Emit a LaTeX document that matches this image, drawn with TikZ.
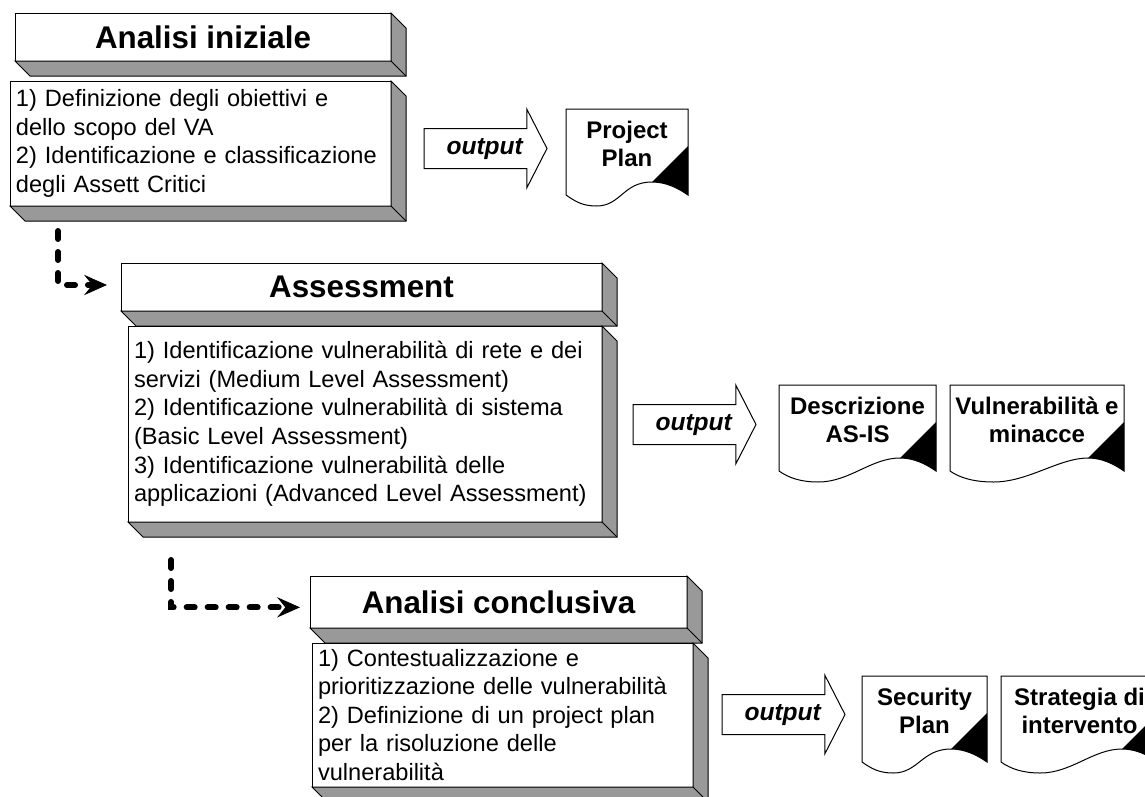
\documentclass[tikz,border=0pt]{standalone}
\usepackage{fontspec}
\setmainfont{Liberation Sans}
\usetikzlibrary{arrows.meta,calc,positioning,shapes.arrows}

\tikzset{
    slabline/.style={draw=black, line width=0.75pt},
    titlebox/.style={slabline, fill=white, inner sep=0pt, outer sep=0pt, font=\fontsize{23.5}{28}\selectfont\bfseries},
    stepsbox/.style={slabline, fill=white, inner sep=0pt, inner xsep=4.5pt, outer sep=0pt, align=left, font=\fontsize{17.7}{21.4}\selectfont},
    outputarrow/.style={single arrow, draw=black, line width=0.75pt, fill=white, inner sep=0pt, outer sep=0pt,
        text height=18.75pt, text depth=10.5pt,
        minimum width=58.5pt, minimum height=92.25pt, single arrow head extend=14.6pt, single arrow tip angle=125.7,
        font=\fontsize{18.4}{22}\selectfont\bfseries\itshape},
    doclabel/.style={inner sep=0pt, align=center, font=\fontsize{18}{21}\selectfont\bfseries},
    flowline/.style={line width=4.5pt, line cap=round, dash pattern=on 6pt off 9.75pt, -{Stealth[length=17pt,width=15pt,inset=6pt]}},
}

% name, left, top, width, height, style, text
\newcommand{\slabbox}[7]{
    \node[#6, anchor=north west, minimum width=#4*0.75pt, minimum height=#5*0.75pt] (#1) at (#2,#3) {#7};
    \filldraw[slabline, fill=black!40] (#1.south west) -- ++(15,15) -- ++(#4,0) -- ++(0,-#5) -- (#1.north east) -- (#1.south east) -- cycle;
    \draw[slabline] (#1.south east) -- ++(15,15);
}

% name, left, top, width, text
\newcommand{\docnote}[5]{
    \begin{scope}[shift={(#2,#3)}]
        \draw[slabline, fill=white] (0,0) -- (#4,0) -- (#4,86) .. controls ({#4-10},79) and ({#4-22},73) .. ({#4-36},73)
            .. controls ({#4-65},73) and ({#4*0.45},97) .. ({#4*0.25},97) .. controls ({#4*0.14},97) and (10,93) .. (0,86) -- cycle;
        \fill[black] (#4,37) -- (#4,86) .. controls ({#4-10},79) and ({#4-22},73) .. ({#4-36},73) -- cycle;
        \node[doclabel] (#1) at ({#4/2},35) {#5};
    \end{scope}
}

\begin{document}
\begin{tikzpicture}[x=0.75pt, y=-0.75pt]
    \useasboundingbox (0,0) rectangle (1145,796);
    \clip (0,0) rectangle (1145,796);

    % TOP: Analisi iniziale
    \slabbox{inizTitle}{15}{13}{376}{48}{titlebox}{Analisi iniziale}
    \slabbox{inizSteps}{10}{81}{381}{125}{stepsbox, text width=276.75pt}{1) Definizione degli obiettivi e\\dello scopo del VA\\2) Identificazione e classificazione\\degli Assett Critici}
    \node[outputarrow, anchor=tail] (inizOut) at (424,148.5) {\hspace{6.5pt}output};
    \docnote{projectPlan}{566}{109}{122}{Project\\Plan}

    % MIDDLE: Assessment
    \slabbox{assessTitle}{121}{263}{481}{48}{titlebox}{Assessment}
    \slabbox{assessSteps}{128}{326}{474}{196}{stepsbox, text width=346.5pt}{1) Identificazione vulnerabilità di rete e dei\\servizi (Medium Level Assessment)\\2) Identificazione vulnerabilità di sistema\\(Basic Level Assessment)\\3) Identificazione vulnerabilità delle\\applicazioni (Advanced Level Assessment)}
    \node[outputarrow, anchor=tail] (assessOut) at (633,424.5) {\hspace{6.5pt}output};
    \docnote{asIs}{779}{385}{157}{Descrizione\\AS-IS}
    \docnote{threats}{950}{385}{174}{Vulnerabilità e\\minacce}

    % BOTTOM: Analisi conclusiva
    \slabbox{concTitle}{310}{576}{377}{52}{titlebox}{Analisi conclusiva}
    \slabbox{concSteps}{312}{643}{381}{144}{stepsbox, text width=276.75pt}{1) Contestualizzazione e\\prioritizzazione delle vulnerabilità\\2) Definizione di un project plan\\per la risoluzione delle\\vulnerabilità}
    \node[outputarrow, anchor=tail] (concOut) at (722,714.5) {\hspace{6.5pt}output};
    \docnote{securityPlan}{862}{676}{125}{Security\\Plan}
    \docnote{strategy}{1001}{676}{157}{Strategia di\\intervento}

    % Dashed links
    \coordinate (inizFoot) at (58,231);
    \coordinate (assessFoot) at (171,560);
    \draw[flowline, shorten >=10.5pt] (inizFoot) |- ([yshift=1.5pt]assessTitle.west);
    \draw[flowline, shorten >=7.5pt] (assessFoot) |- ([yshift=-4pt]concTitle.west);
\end{tikzpicture}
\end{document}
